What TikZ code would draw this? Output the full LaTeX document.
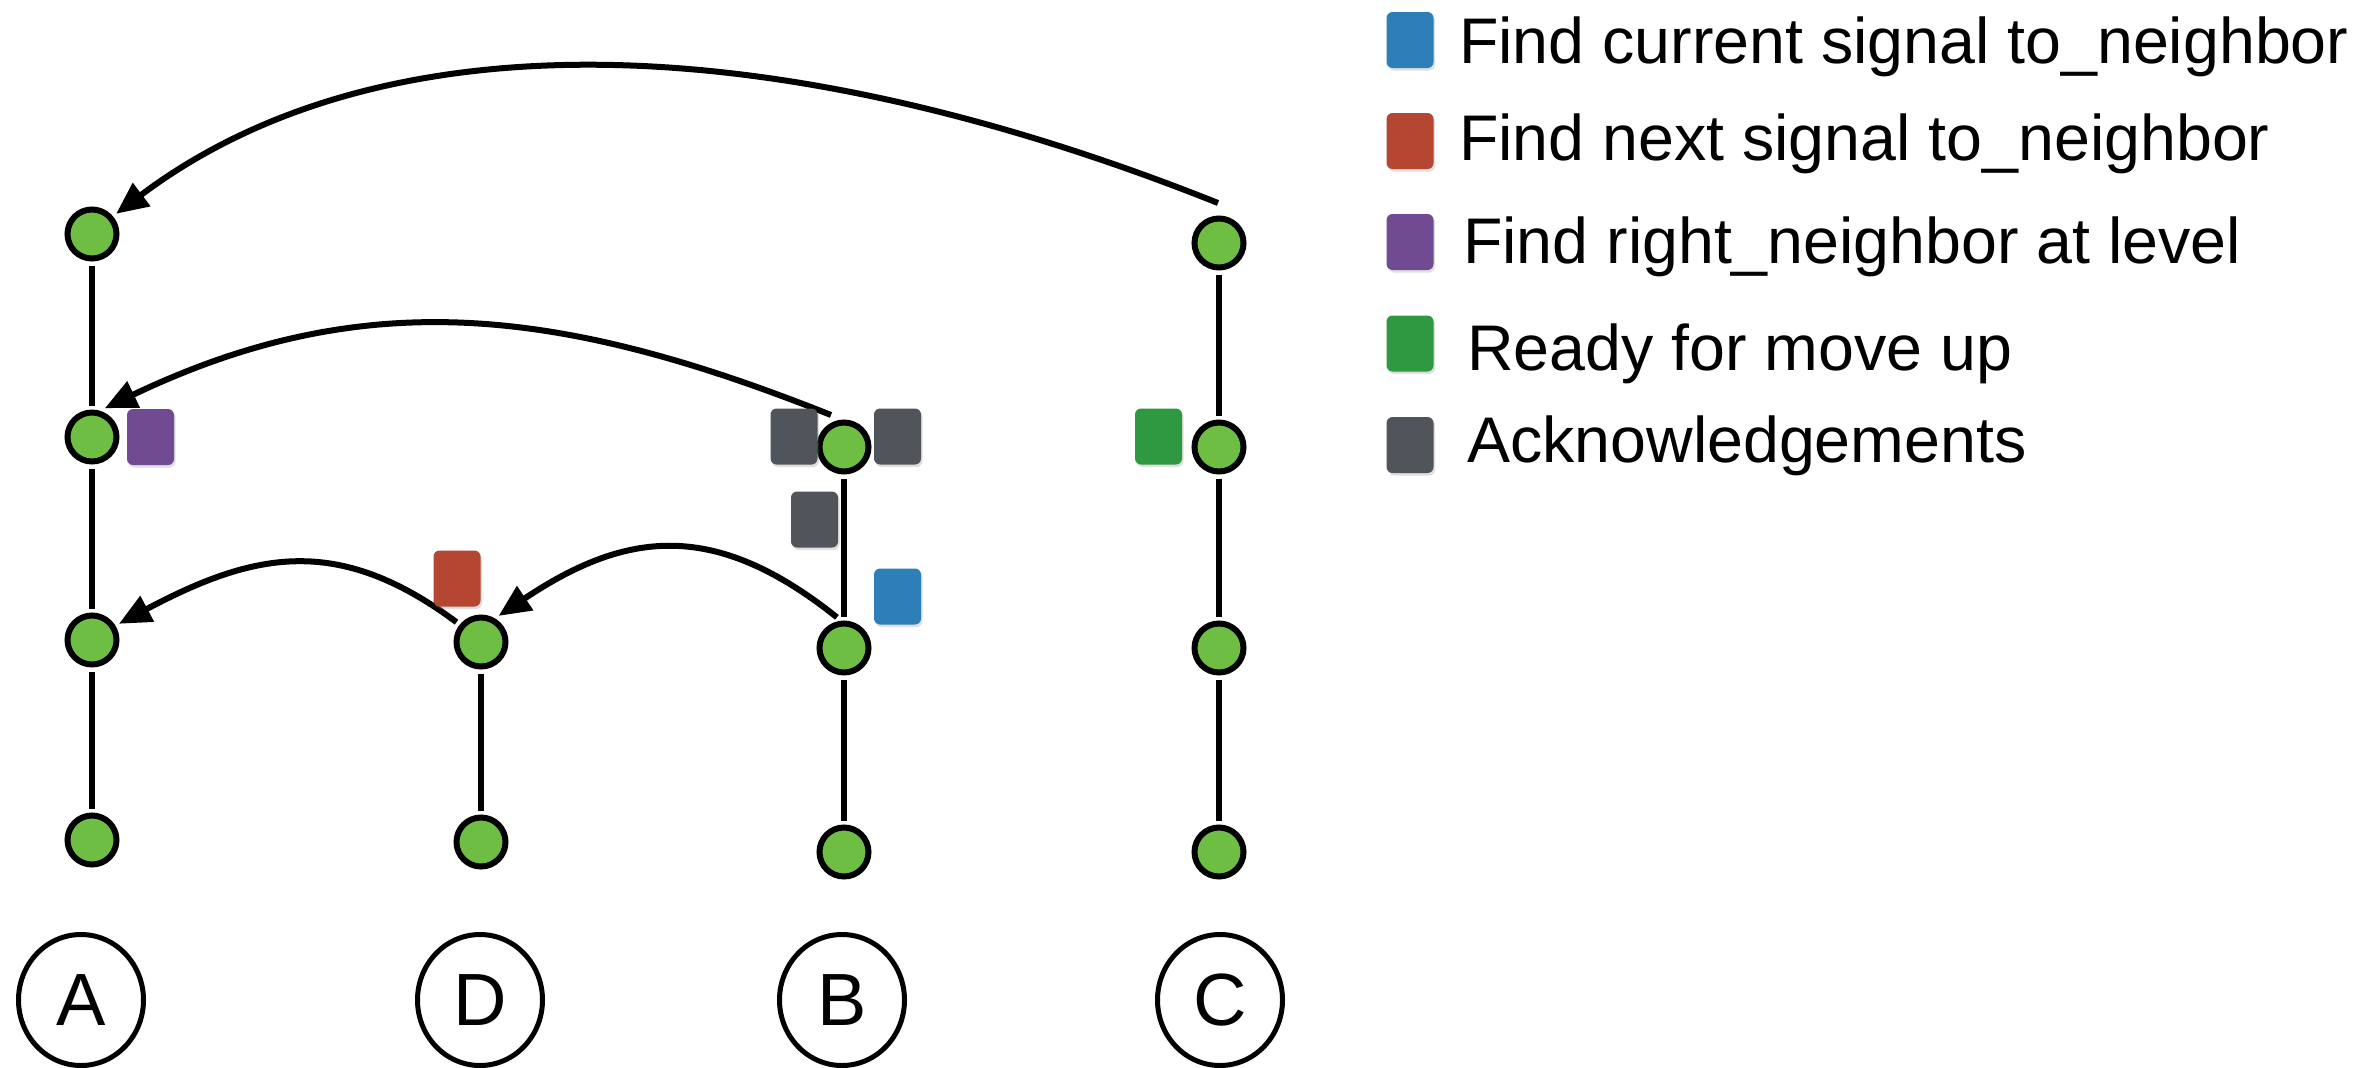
\documentclass[tikz,border=0pt]{standalone}
\usepackage{fontspec}
\setmainfont{Liberation Sans}
\usetikzlibrary{arrows.meta,shapes.geometric,shadows}
\definecolor{nodegreen}{RGB}{111,190,68}
\definecolor{fblue}{RGB}{46,127,184}
\definecolor{fred}{RGB}{180,70,50}
\definecolor{fpurple}{RGB}{112,75,146}
\definecolor{fgreen}{RGB}{46,153,64}
\definecolor{fgray}{RGB}{80,84,91}
\begin{document}
\begin{tikzpicture}[x=1pt,y=-1pt,
  vnode/.style={circle,draw=black,line width=6pt,fill=nodegreen,minimum size=49pt,inner sep=0pt,outer sep=7pt},
  link/.style={line width=5.5pt},
  msg/.style={line width=6pt,-{Triangle[length=32pt,width=28pt]}},
  flag/.style={rounded corners=6pt,minimum width=47pt,minimum height=56pt,inner sep=0pt,draw=none,
    drop shadow={shadow xshift=1.5pt,shadow yshift=-2.5pt,opacity=0.25}},
  proc/.style={ellipse,draw=black,line width=5pt,minimum width=125pt,minimum height=131pt,inner sep=0pt,
    font=\fontsize{74}{80}\selectfont},
  legtext/.style={anchor=base west,inner sep=0pt,font=\fontsize{64.5}{70}\selectfont}]
\useasboundingbox[fill=white] (0,0) rectangle (2380,1068);

% process nodes (columns A, D, B, C)
\node[vnode] (A1) at (92,234) {};
\node[vnode] (A2) at (92,437) {};
\node[vnode] (A3) at (92,640) {};
\node[vnode] (A4) at (92,840) {};
\node[vnode] (D1) at (481,642) {};
\node[vnode] (D2) at (481,842) {};
\node[vnode] (B1) at (844,447) {};
\node[vnode] (B2) at (844,648) {};
\node[vnode] (B3) at (844,852) {};
\node[vnode] (C1) at (1219,243) {};
\node[vnode] (C2) at (1219,447) {};
\node[vnode] (C3) at (1219,648) {};
\node[vnode] (C4) at (1219,852) {};

% bottom labels
\node[proc] (PA) at (81,1000) {A};
\node[proc] (PD) at (480,1000) {D};
\node[proc] (PB) at (842,1000) {B};
\node[proc] (PC) at (1220,1000) {C};

% vertical links
\draw[link] (A1) -- (A2);
\draw[link] (A2) -- (A3);
\draw[link] (A3) -- (A4);
\draw[link] (D1) -- (D2);
\draw[link] (B1) -- (B2);
\draw[link] (B2) -- (B3);
\draw[link] (C1) -- (C2);
\draw[link] (C2) -- (C3);
\draw[link] (C3) -- (C4);

% message arrows
\coordinate (s1) at (1218,203);
\coordinate (s2) at (831,415);
\draw[msg] (s1) .. controls (772,25) and (380,15) .. (A1.40);
\draw[msg] (s2) .. controls (560,307) and (365,284) .. (A2.66);
\draw[msg] (D1.141) .. controls (338,534) and (254,552) .. (A3.31);
\draw[msg] (B2.103) .. controls (715,520) and (627,530) .. (D1.56);

% status flags
\node[flag,fill=fpurple] (fA) at (150.5,437) {};
\node[flag,fill=fgray] (gL) at (794,436.5) {};
\node[flag,fill=fgray] (gR) at (897.5,436.5) {};
\node[flag,fill=fgray] (gM) at (814.5,519.5) {};
\node[flag,fill=fblue] (fB) at (897.5,596.5) {};
\node[flag,fill=fgreen] (fC) at (1158.5,436.5) {};
\node[flag,fill=fred] (fD) at (457,578.5) {};

% legend
\node[flag,fill=fblue] (k1) at (1410,40) {};
\node[flag,fill=fred] (k2) at (1410,141) {};
\node[flag,fill=fpurple] (k3) at (1410,242) {};
\node[flag,fill=fgreen] (k4) at (1410,343.5) {};
\node[flag,fill=fgray] (k5) at (1410,445) {};
\node[legtext] (t1) at (1459,63) {Find current signal to\_neighbor};
\node[legtext] (t2) at (1459,160) {Find next signal to\_neighbor};
\node[legtext] (t3) at (1463,263) {Find right\_neighbor at level};
\node[legtext] (t4) at (1467,370) {Ready for move up};
\node[legtext] (t5) at (1467,462) {Acknowledgements};
\end{tikzpicture}
\end{document}
